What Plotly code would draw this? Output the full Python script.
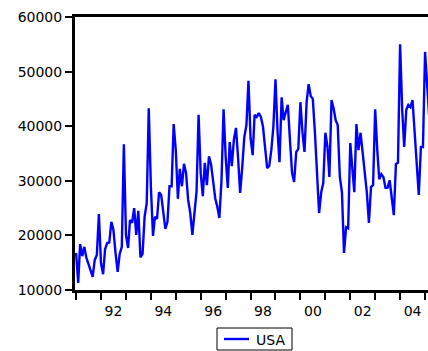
import pandas as pd
import plotly.graph_objects as go

# Monthly USA series, starting January 1991
start_month = "1991-01-01"
usa = [
    16800, 11300, 18400, 16200, 17900, 15900, 14800, 13500, 12400, 15500, 16400, 23900,
    14900, 12900, 17500, 18600, 18700, 22500, 21000, 16800, 13300, 16600, 17900, 36700,
    20100, 17700, 22800, 22300, 25000, 20100, 24500, 16000, 16600, 23400, 25900, 43300,
    28900, 19900, 23400, 23000, 27900, 27400, 24700, 21200, 22500, 29000, 29000, 40400,
    35600, 26700, 32200, 29000, 33100, 31400, 26500, 24100, 20100, 24000, 28000, 42100,
    31400, 27200, 33300, 29200, 34500, 33000, 30000, 26800, 25200, 23200, 30100, 43100,
    34400, 28700, 37100, 32700, 37500, 39700, 34400, 27800, 32500, 38000, 40200, 48300,
    37800, 34700, 42100, 41700, 42400, 41700, 40000, 36000, 32300, 32700, 35600, 39900,
    48600, 38800, 33400, 45300, 41100, 42600, 43900, 37500, 31400, 29800, 35300, 35800,
    44400, 38800, 35300, 44400, 47700, 45500, 45000, 38800, 32000, 24100, 27900, 29600,
    38800, 36200, 30700, 44800, 43300, 41100, 40200, 30700, 27900, 16800, 21500, 21300,
    36900, 32900, 27900, 40400, 35600, 38800, 35100, 31400, 27800, 22300, 28900, 29200,
    43100, 35600, 30300, 31200, 30700, 28700, 28700, 30100, 26500, 23700, 33100, 33300,
    55000, 43000, 36200, 43000, 43900, 43500, 44800, 38800, 31400, 27400, 36200, 36200,
    53600, 47900, 42000,
]
series_name = "USA"
dates = pd.date_range(start_month, periods=len(usa), freq="MS")

# Year boundaries carry the tick marks; two-digit labels sit mid-year on even years
year_starts = [f"{y}-01-01" for y in range(1991, 2006)]
label_years = list(range(1992, 2005, 2))
label_pos = [f"{y}-07-02" for y in label_years]
label_text = [f"{y % 100:02d}" for y in label_years]

y_ticks = [10000, 20000, 30000, 40000, 50000, 60000]

W, H = 428, 351
ML, MR, MT, MB = 75, 0, 17, 61
font = dict(family="DejaVu Sans", size=14, color="black")
line_color = "#0000ff"


def px_x(px):
    return (px - ML) / (W - ML - MR)


def px_y(py):
    return (H - MB - py) / (H - MT - MB)


fig = go.Figure()
fig.add_trace(go.Scatter(
    x=dates, y=usa, mode="lines", name=series_name,
    line=dict(color=line_color, width=2.4),
    showlegend=False,
))

# Boxed key below the plot
fig.add_shape(type="rect", xref="paper", yref="paper",
              x0=px_x(217), x1=px_x(292), y0=px_y(350), y1=px_y(328),
              line=dict(color="black", width=1), fillcolor="white", layer="above")
fig.add_shape(type="line", xref="paper", yref="paper",
              x0=px_x(224), x1=px_x(249), y0=px_y(339), y1=px_y(339),
              line=dict(color=line_color, width=2.4), layer="above")
fig.add_annotation(xref="paper", yref="paper", x=px_x(254), y=px_y(339.5),
                   xanchor="left", yanchor="middle", text=series_name,
                   showarrow=False, font=font)

fig.update_layout(
    width=W, height=H,
    margin=dict(l=ML, r=MR, t=MT, b=MB),
    paper_bgcolor="white", plot_bgcolor="white",
    font=font,
    showlegend=False,
)

fig.update_xaxes(
    type="date",
    range=["1990-12-16", "2005-02-13"],
    tickmode="array", tickvals=label_pos, ticktext=label_text,
    ticks="outside", ticklen=6, tickcolor="rgba(0,0,0,0)",
    minor=dict(tickmode="array", tickvals=year_starts, ticks="outside",
               ticklen=7, tickwidth=2, tickcolor="black"),
    showgrid=False, zeroline=False,
    showline=True, linecolor="black", linewidth=3, mirror=True,
    automargin=False,
)

fig.update_yaxes(
    range=[10000, 60000],
    tickmode="array", tickvals=y_ticks, ticktext=[str(v) for v in y_ticks],
    ticks="outside", ticklen=7, tickwidth=2, tickcolor="black",
    showgrid=False, zeroline=False,
    showline=True, linecolor="black", linewidth=3, mirror=False,
    automargin=False,
)

fig.write_html("out.html")
